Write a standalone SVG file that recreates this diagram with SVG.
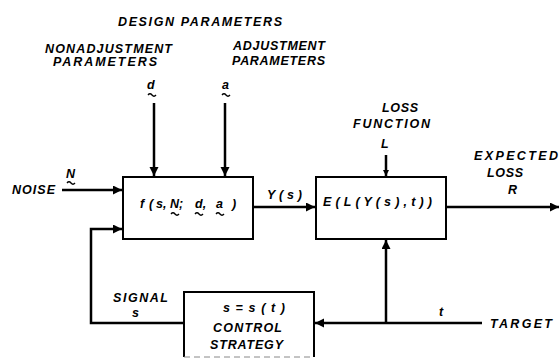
<svg xmlns="http://www.w3.org/2000/svg" width="560" height="361" viewBox="0 0 560 361">
<style>
text{font-family:"Liberation Sans",Arial,sans-serif;font-weight:bold;font-style:italic;font-size:12.5px;fill:#000}
.box{fill:#fff;stroke:#000;stroke-width:2}
.ln{fill:none;stroke:#000;stroke-width:2.5}
.tl{fill:none;stroke:#000;stroke-width:1.3}
</style>
<defs>
<marker id="ah" markerUnits="userSpaceOnUse" markerWidth="10" markerHeight="10" refX="9" refY="4.5" orient="auto">
<path d="M0,0 L9,4.5 L0,9 z" fill="#000"/>
</marker>
<marker id="ahs" markerUnits="userSpaceOnUse" markerWidth="8" markerHeight="8" refX="6" refY="3" orient="auto">
<path d="M0,0 L6,3 L0,6 z" fill="#000"/>
</marker>
</defs>
<rect width="560" height="361" fill="#fff"/>

<g id="labels-top">
<text x="118" y="26" textLength="164" lengthAdjust="spacing">DESIGN PARAMETERS</text>
<text x="45" y="53" textLength="127" lengthAdjust="spacing">NONADJUSTMENT</text>
<text x="53" y="66" textLength="104" lengthAdjust="spacing">PARAMETERS</text>
<text x="233" y="50" textLength="92" lengthAdjust="spacing">ADJUSTMENT</text>
<text x="232" y="65" textLength="93" lengthAdjust="spacing">PARAMETERS</text>
<text x="147" y="89">d</text>
<path class="tl" d="M148,95 q2,-2.5 4,0 t4,0"/>
<text x="222" y="89">a</text>
<path class="tl" d="M222,95 q2,-2.5 4,0 t4,0"/>
</g>

<g id="noise-label">
<text x="12" y="194" textLength="43" lengthAdjust="spacing">NOISE</text>
<text x="66" y="178">N</text>
<path class="tl" d="M67,183 q2,-2.5 4,0 t4,0"/>
</g>

<g id="node-f">
<rect class="box" x="123" y="177" width="130" height="62"/>
<text y="208"><tspan x="140">f</tspan><tspan x="149">(</tspan><tspan x="156">s,</tspan><tspan x="170">N;</tspan><tspan x="195">d,</tspan><tspan x="216">a</tspan><tspan x="232">)</tspan></text>
<path class="tl" d="M171,214 q2,-2.5 4,0 t4,0"/>
<path class="tl" d="M195,214 q2,-2.5 4,0 t4,0"/>
<path class="tl" d="M216,214 q2,-2.5 4,0 t4,0"/>
</g>

<g id="node-E">
<rect class="box" x="316" y="177" width="130" height="62"/>
<text x="323" y="206" textLength="109" lengthAdjust="spacing">E ( L ( Y ( s ) , t ) )</text>
</g>

<g id="loss-function">
<text x="382" y="112" textLength="36" lengthAdjust="spacing">LOSS</text>
<text x="353" y="128" textLength="77" lengthAdjust="spacing">FUNCTION</text>
<text x="381" y="148">L</text>
</g>

<g id="expected-loss">
<text x="474" y="160" textLength="84" lengthAdjust="spacing">EXPECTED</text>
<text x="487" y="177" textLength="36" lengthAdjust="spacing">LOSS</text>
<text x="508" y="194">R</text>
</g>

<g id="node-control">
<path class="box" d="M184,357 V292 H314 V357"/>
<path d="M184,357 H314" fill="none" stroke="#888" stroke-width="1" stroke-dasharray="6,4"/>
<text x="223" y="312" textLength="62" lengthAdjust="spacing">s = s ( t )</text>
<text x="213" y="332" textLength="69" lengthAdjust="spacing">CONTROL</text>
<text x="210" y="349" textLength="73" lengthAdjust="spacing">STRATEGY</text>
</g>

<g id="other-labels">
<text x="267" y="199" textLength="35" lengthAdjust="spacing">Y ( s )</text>
<text x="113" y="302" textLength="55" lengthAdjust="spacing">SIGNAL</text>
<text x="132" y="317">s</text>
<text x="439" y="316">t</text>
<text x="490" y="328" textLength="62" lengthAdjust="spacing">TARGET</text>
</g>

<g id="connectors">
<path class="ln" d="M154,103 V176" marker-end="url(#ah)"/>
<path class="ln" d="M225,103 V176" marker-end="url(#ah)"/>
<path class="ln" d="M62,190 H122" marker-end="url(#ah)"/>
<path class="ln" d="M184,323 H91 V229 H122" marker-end="url(#ah)"/>
<path class="ln" d="M253,207 H315" marker-end="url(#ah)"/>
<path class="ln" d="M386,155 V176" marker-end="url(#ahs)"/>
<path class="ln" d="M446,207 H559" marker-end="url(#ah)"/>
<path class="ln" d="M482,323 H315" marker-end="url(#ah)"/>
<path class="ln" d="M386,323 V240" marker-end="url(#ah)"/>
</g>
</svg>
